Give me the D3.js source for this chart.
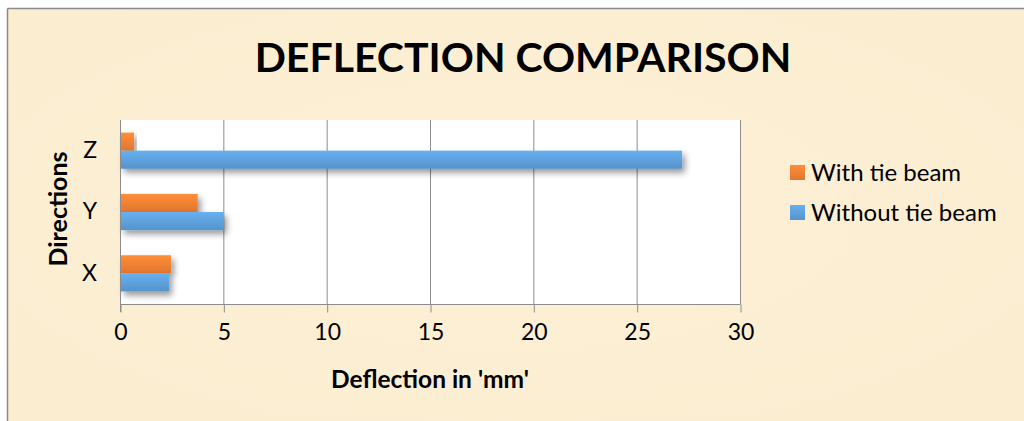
<!DOCTYPE html>
<html><head><meta charset="utf-8">
<script src="https://cdn.jsdelivr.net/npm/d3@7/dist/d3.min.js"></script>
<style>html,body{margin:0;padding:0;background:#fff;}svg{display:block;}</style>
</head><body>
<script>
const categories = ["Z", "Y", "X"];
const seriesNames = ["With tie beam", "Without tie beam"];
const withTieBeam = [0.68, 3.76, 2.47];
const withoutTieBeam = [27.2, 5.02, 2.37];
const xTicks = [0, 5, 10, 15, 20, 25, 30];
const colors = ["#ED7D31", "#5B9BD5"];

(function(){
const W = 1024, H = 421;
const FONT = "Lato, Carlito, sans-serif";
const svg = d3.select("body").append("svg").attr("width", W).attr("height", H);
const defs = svg.append("defs");

const bg = defs.append("radialGradient").attr("id","bgGrad").attr("cx","50%").attr("cy","50%").attr("r","70%");
bg.append("stop").attr("offset","0%").attr("stop-color","#fdf0d7");
bg.append("stop").attr("offset","100%").attr("stop-color","#fbedcf");
svg.append("rect").attr("width", W).attr("height", H).attr("fill", "#fff");
svg.append("rect").attr("x",7.5).attr("y",8.5).attr("width",W-7).attr("height",H-8).attr("fill","url(#bgGrad)");
svg.append("line").attr("x1",7.5).attr("x2",W).attr("y1",8.5).attr("y2",8.5).attr("stroke","#8a8a8a").attr("stroke-width",1.5);
svg.append("line").attr("x1",7.5).attr("x2",7.5).attr("y1",8.5).attr("y2",H).attr("stroke","#8a8a8a").attr("stroke-width",1.5);

colors.forEach((c,i)=>{
  const g = defs.append("linearGradient").attr("id","bar"+i).attr("x1","0").attr("y1","0").attr("x2","0").attr("y2","1");
  g.append("stop").attr("offset","0%").attr("stop-color", d3.color(c).brighter(0.35));
  g.append("stop").attr("offset","100%").attr("stop-color", d3.color(c).darker(0.15));
});
const f = defs.append("filter").attr("id","shadow").attr("x","-10%").attr("y","-30%").attr("width","130%").attr("height","200%");
f.append("feDropShadow").attr("dx",3).attr("dy",4).attr("stdDeviation",3).attr("flood-color","#000").attr("flood-opacity",0.4);

const pL = 120, pR = 740, pT = 120, pB = 304;
const x = d3.scaleLinear().domain([0, 30]).range([pL, pR]);
const y = d3.scaleBand().domain(categories).range([pT, pB]).paddingInner(0.41).paddingOuter(0.205);
const ySub = d3.scaleBand().domain([0,1]).range([0, y.bandwidth()]);

svg.append("rect").attr("x",pL).attr("y",pT).attr("width",pR-pL).attr("height",pB-pT).attr("fill","#fff");

svg.append("g").selectAll("line").data(xTicks).join("line")
  .attr("x1",d=>x(d)+0.5).attr("x2",d=>x(d)+0.5).attr("y1",pT).attr("y2",pB)
  .attr("stroke","#8c8c8c").attr("stroke-width",1);

const series = [withTieBeam, withoutTieBeam];
series.forEach((vals,si)=>{
  svg.append("g").selectAll("rect").data(categories).join("rect")
    .attr("x", x(0)+1)
    .attr("y", d=>y(d)+ySub(si))
    .attr("width", (d,i)=>x(vals[i])-x(0)-1)
    .attr("height", ySub.bandwidth())
    .attr("fill","url(#bar"+si+")")
    .attr("filter","url(#shadow)");
});

const xAxis = d3.axisBottom(x).tickValues(xTicks).tickSize(8).tickPadding(11);
const gx = svg.append("g").attr("transform",`translate(0.5,${pB+0.5})`).call(xAxis);
gx.select(".domain").attr("stroke","#8c8c8c").attr("d",`M${pL},0H${pR}`);
gx.selectAll(".tick line").attr("stroke","#8c8c8c");
gx.selectAll(".tick text").attr("font-family",FONT).attr("font-size",23).attr("fill","#000").attr("dy","0.71em");

svg.append("line").attr("x1",pL+0.5).attr("x2",pL+0.5).attr("y1",pT).attr("y2",pB+8).attr("stroke","#8c8c8c");
const yAxis = d3.axisLeft(y).tickSize(0).tickPadding(23);
const gy = svg.append("g").attr("transform",`translate(${pL},0)`).call(yAxis);
gy.select(".domain").remove();
gy.selectAll(".tick text").attr("font-family",FONT).attr("font-size",23).attr("fill","#000");

svg.append("text").attr("x",523).attr("y",72).attr("text-anchor","middle")
  .attr("font-family",FONT).attr("font-weight","bold").attr("font-size",41)
  .attr("fill","#000").text("DEFLECTION COMPARISON");

svg.append("text").attr("x",430).attr("y",388).attr("text-anchor","middle")
  .attr("font-family",FONT).attr("font-weight","bold").attr("font-size",24.5)
  .attr("fill","#000").text("Deflection in 'mm'");
svg.append("text").attr("transform","translate(67,209) rotate(-90)").attr("text-anchor","middle")
  .attr("font-family",FONT).attr("font-weight","bold").attr("font-size",25)
  .attr("fill","#000").text("Directions");

const legend = svg.append("g");
const legY = [165, 205];
seriesNames.forEach((n,i)=>{
  legend.append("rect").attr("x",790).attr("y",legY[i]).attr("width",15).attr("height",15).attr("fill","url(#bar"+i+")");
  legend.append("text").attr("x",811).attr("y",legY[i]+16)
    .attr("font-family",FONT).attr("font-size",24).attr("fill","#000").text(n);
});
})();
</script>
</body></html>
